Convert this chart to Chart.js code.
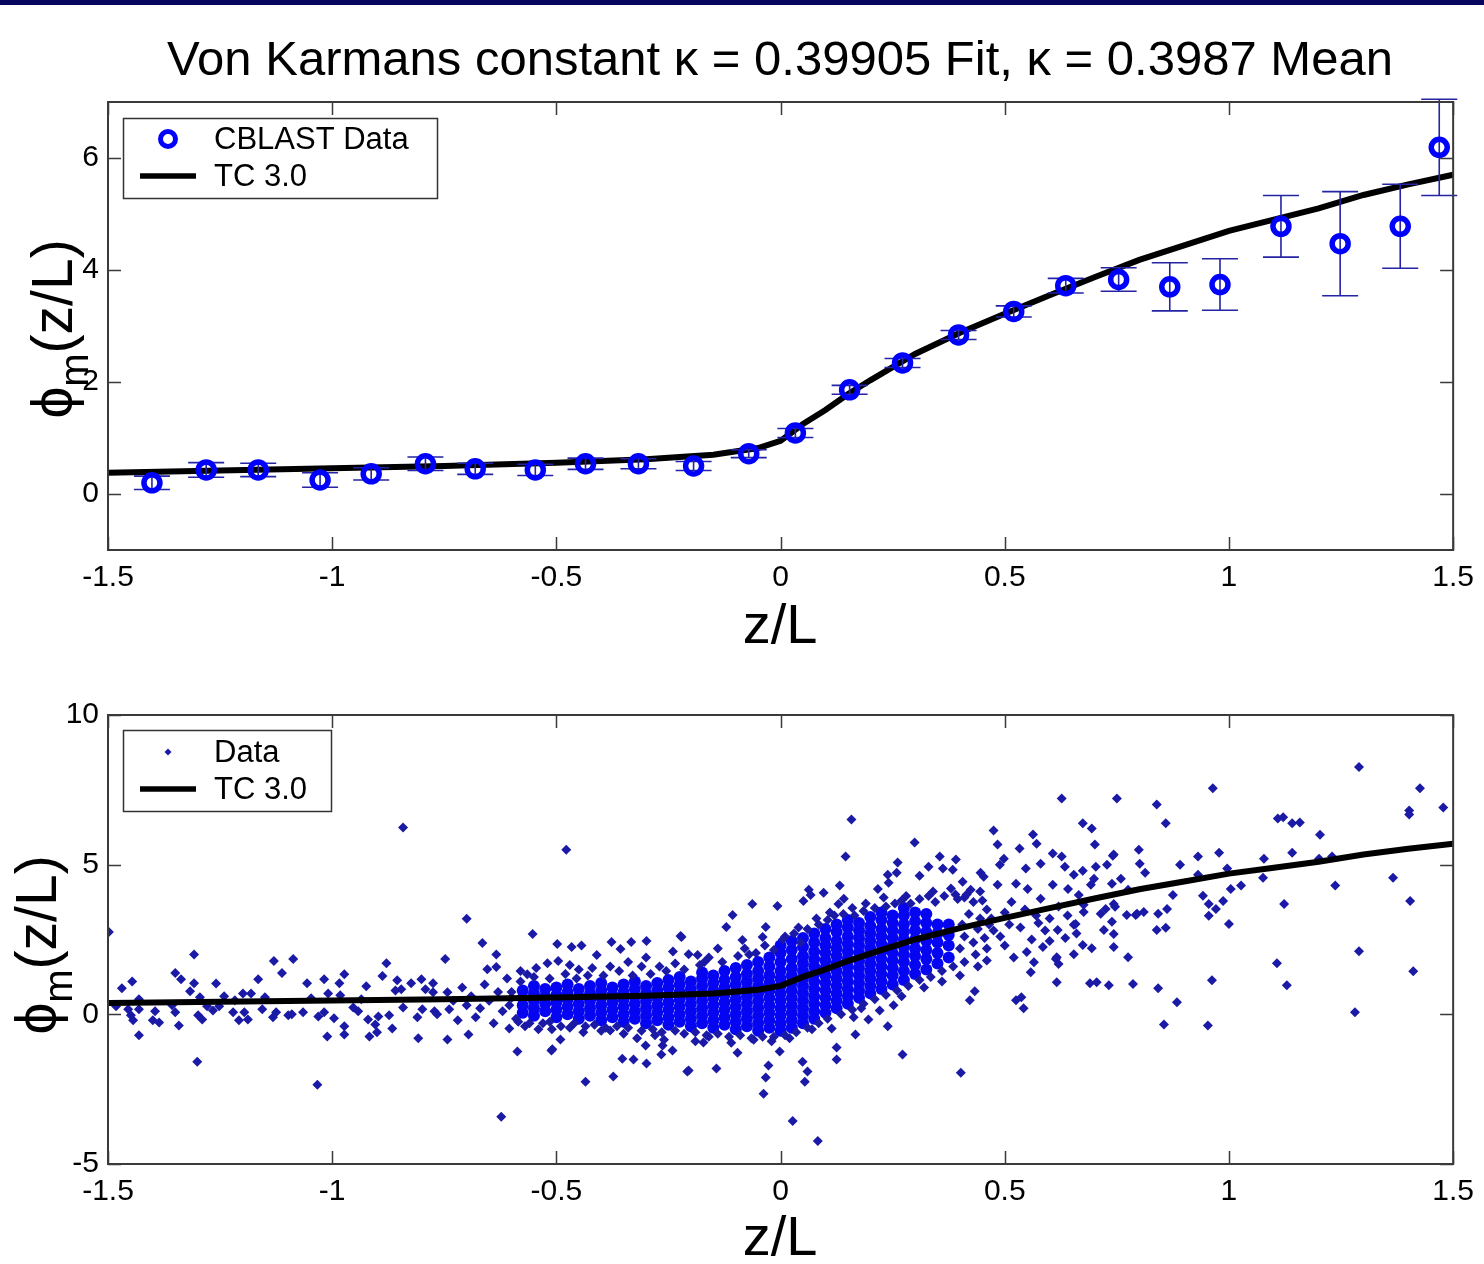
<!DOCTYPE html>
<html>
<head>
<meta charset="utf-8">
<script src="https://cdn.jsdelivr.net/npm/chart.js@4.4.1/dist/chart.umd.min.js"></script>
<style>
  body { margin: 0; background: #fff; width: 1484px; height: 1264px; position: relative; overflow: hidden; }
  #bar { position: absolute; left: 0; top: 0; width: 1484px; height: 5px; background: #06065e; }
  #c1 { position: absolute; left: 0; top: 0; }
  #c2 { position: absolute; left: 0; top: 650px; }
</style>
</head>
<body>
<canvas id="c1" width="1484" height="650"></canvas>
<canvas id="c2" width="1484" height="614"></canvas>
<div id="bar"></div>
<script>
// axis ticks
const xTicks = [-1.5, -1, -0.5, 0, 0.5, 1, 1.5];
const yTicksTop = [0, 2, 4, 6];
const yTicksBottom = [-5, 0, 5, 10];

// TC 3.0 curve (same in both panels)
const tcX = [-1.5, -1.25, -1, -0.75, -0.5, -0.3, -0.15, -0.05, 0, 0.05, 0.1, 0.15, 0.2, 0.3, 0.4, 0.5, 0.6, 0.7, 0.8, 0.9, 1, 1.1, 1.2, 1.3, 1.4, 1.5];
const tcY = [0.38, 0.42, 0.46, 0.5, 0.56, 0.62, 0.7, 0.82, 0.95, 1.25, 1.5, 1.78, 2.03, 2.5, 2.88, 3.22, 3.55, 3.87, 4.18, 4.44, 4.7, 4.9, 5.1, 5.34, 5.53, 5.7];

// CBLAST bin means with error bars
const cblastX = [-1.402, -1.281, -1.165, -1.027, -0.913, -0.792, -0.681, -0.547, -0.435, -0.317, -0.194, -0.071, 0.033, 0.154, 0.272, 0.397, 0.52, 0.636, 0.754, 0.868, 0.98, 1.116, 1.248, 1.382, 1.469];
const cblastY = [0.2, 0.43, 0.43, 0.25, 0.36, 0.54, 0.45, 0.43, 0.54, 0.54, 0.5, 0.72, 1.09, 1.86, 2.34, 2.84, 3.26, 3.72, 3.83, 3.7, 3.74, 4.78, 4.47, 4.78, 6.19];
const cblastErr = [0.12, 0.13, 0.12, 0.13, 0.11, 0.12, 0.1, 0.1, 0.1, 0.09, 0.08, 0.07, 0.08, 0.08, 0.08, 0.08, 0.1, 0.13, 0.21, 0.43, 0.46, 0.55, 0.93, 0.75, 0.86];

// individual data: scattered points [z/L, phi]
const scatterPts = [
  [-1.498,2.75],[-1.482,0.27],[-1.469,0.87],[-1.455,0.17],[-1.449,-0.03],[-1.446,1.1],[-1.444,-0.2],[-1.431,0.17],[-1.431,0.5],[-1.431,-0.7],
  [-1.4,-0.2],[-1.395,0.1],[-1.386,-0.27],[-1.357,0.3],[-1.35,1.38],[-1.35,0.07],[-1.342,-0.37],[-1.337,1.17],[-1.317,0.77],[-1.308,2.0],
  [-1.308,1.04],[-1.301,-1.58],[-1.299,-0.03],[-1.295,0.57],[-1.29,-0.17],[-1.279,0.27],[-1.266,0.13],[-1.259,1.03],[-1.252,0.27],[-1.241,0.6],
  [-1.221,0.07],[-1.217,0.47],[-1.208,-0.2],[-1.199,0.7],[-1.196,0.07],[-1.188,-0.17],[-1.181,0.7],[-1.165,1.17],[-1.156,0.17],[-1.15,0.57],
  [-1.132,-0.1],[-1.13,1.78],[-1.125,0.07],[-1.112,1.38],[-1.098,-0.03],[-1.09,0.0],[-1.087,1.85],[-1.065,0.07],[-1.056,1.04],[-1.047,0.54],
  [-1.033,-2.35],[-1.031,-0.07],[-1.018,1.17],[-1.018,0.07],[-1.011,-0.74],[-1.009,0.7],[-0.996,-0.13],[-0.984,1.04],[-0.982,0.64],[-0.973,1.34],
  [-0.973,-0.4],[-0.973,-0.67],[-0.953,0.23],[-0.942,0.1],[-0.935,0.5],[-0.924,0.94],[-0.92,-0.17],[-0.917,-0.74],[-0.904,-0.34],[-0.9,-0.6],
  [-0.897,-0.07],[-0.888,1.28],[-0.879,1.71],[-0.873,-0.03],[-0.866,-0.47],[-0.859,0.8],[-0.855,1.14],[-0.846,0.84],[-0.842,6.24],[-0.842,0.23],
  [-0.824,1.04],[-0.81,-0.1],[-0.808,-0.8],[-0.801,1.17],[-0.799,0.17],[-0.792,0.84],[-0.775,1.04],[-0.775,0.74],[-0.772,0.1],[-0.766,0.0],
  [-0.748,1.85],[-0.743,0.74],[-0.743,-0.84],[-0.739,0.17],[-0.7,3.19],[-0.696,-0.67],[-0.665,2.38],[-0.654,1.51],[-0.634,1.58],[-0.634,2.0],
  [-0.605,-0.47],[-0.587,-1.24],[-0.553,2.68],[-0.511,-1.21],[-0.498,2.35],[-0.491,-0.84],[-0.478,5.5],[-0.466,2.25],[-0.444,2.3],[-0.435,-2.25],
  [-0.73,0.45],[-0.72,-0.2],[-0.71,0.9],[-0.7,0.3],[-0.69,0.6],[-0.68,-0.1],[-0.67,0.2],[-0.66,1.0],[-0.65,0.45],[-0.64,-0.3],
  [-0.63,0.75],[-0.62,0.1],[-0.61,1.2],[-0.6,0.55],[-0.59,-0.15],[-0.58,1.1],[-0.57,-0.4],[-0.565,1.34],[-0.55,1.25],[-0.53,-0.3],
  [-0.52,1.71],[-0.51,-0.5],[-0.496,1.78],[-0.48,1.35],[-0.47,-0.45],[-0.45,1.5],[-0.44,-0.6],[-0.43,1.3],[-0.41,1.98],[-0.4,-0.55],
  [-0.38,-0.54],[-0.38,1.6],[-0.377,2.42],[-0.357,2.18],[-0.35,-0.65],[-0.34,1.75],[-0.333,2.42],[-0.32,-0.8],[-0.3,1.9],[-0.299,2.45],
  [-0.28,-0.7],[-0.27,1.6],[-0.26,-0.85],[-0.24,2.1],[-0.223,2.62],[-0.221,2.58],[-0.205,2.01],[-0.19,-0.9],[-0.185,1.98],[-0.17,1.75],
  [-0.16,-0.75],[-0.14,2.2],[-0.121,2.92],[-0.107,3.32],[-0.11,-0.95],[-0.085,2.48],[-0.07,2.0],[-0.063,3.69],[-0.06,-0.85],[-0.04,2.58],
  [-0.033,2.92],[-0.02,-0.9],[-0.007,3.62],[0.01,2.6],[0.02,-0.8],[0.04,2.9],[0.051,3.79],[0.063,4.16],[0.067,3.99],[0.07,-0.5],
  [0.08,3.2],[0.096,4.06],[0.11,3.4],[0.114,-0.47],[0.129,3.69],[0.132,4.3],[0.141,3.86],[0.145,5.27],[0.158,6.51],[0.16,3.55],
  [0.163,-0.1],[0.167,-0.67],[0.18,0.2],[0.19,3.7],[0.196,-0.17],[0.217,4.19],[0.221,0.13],[0.23,3.9],[0.239,-0.4],[0.239,4.66],
  [0.241,4.4],[0.252,0.3],[0.259,4.73],[0.261,5.07],[0.27,0.6],[0.28,3.95],[0.299,5.74],[0.31,4.63],[0.32,0.9],[0.33,4.93],
  [0.34,4.1],[0.355,5.27],[0.36,1.1],[0.362,4.87],[0.384,4.83],[0.391,5.17],[0.39,4.0],[0.4,1.3],[0.406,4.43],[0.41,3.9],
  [0.422,0.47],[0.424,4.16],[0.433,0.77],[0.44,1.6],[0.446,4.73],[0.45,3.8],[0.453,4.6],[0.46,2.2],[0.47,3.2],[0.475,6.14],
  [0.484,5.67],[0.484,4.33],[0.489,5.0],[0.49,2.6],[0.498,5.2],[0.51,3.0],[0.52,1.9],[0.525,4.36],[0.525,0.47],[0.533,5.54],
  [0.537,0.57],[0.542,0.2],[0.547,4.87],[0.549,2.08],[0.551,4.19],[0.558,1.41],[0.563,6.01],[0.565,1.74],[0.57,3.3],[0.571,5.7],
  [0.58,5.03],[0.58,3.86],[0.585,2.25],[0.59,2.8],[0.607,5.37],[0.607,4.33],[0.614,1.85],[0.616,1.07],[0.616,1.91],[0.618,2.82],
  [0.62,1.68],[0.627,7.21],[0.627,5.27],[0.634,4.93],[0.641,4.19],[0.654,4.66],[0.654,2.99],[0.654,2.01],[0.658,3.02],[0.665,3.99],
  [0.674,6.38],[0.674,4.8],[0.674,2.32],[0.676,3.42],[0.676,3.66],[0.69,1.04],[0.692,4.33],[0.694,6.21],[0.694,2.21],[0.699,4.53],
  [0.701,5.67],[0.703,4.93],[0.705,1.07],[0.714,3.36],[0.721,2.82],[0.725,3.52],[0.728,5.0],[0.732,0.97],[0.739,4.36],[0.739,3.09],
  [0.741,5.3],[0.743,5.34],[0.743,2.68],[0.743,2.25],[0.743,3.69],[0.746,3.59],[0.75,7.21],[0.759,4.53],[0.772,3.32],[0.775,4.16],
  [0.775,1.91],[0.786,1.01],[0.792,3.32],[0.795,3.36],[0.799,5.5],[0.801,5.03],[0.81,3.42],[0.813,4.73],[0.839,7.01],[0.839,2.82],
  [0.842,3.36],[0.842,0.87],[0.855,-0.34],[0.859,6.38],[0.859,2.89],[0.862,3.52],[0.875,3.99],[0.884,0.4],[0.891,5.0],[0.931,5.27],
  [0.931,4.66],[0.942,3.96],[0.953,-0.37],[0.955,3.69],[0.955,3.29],[0.962,1.14],[0.964,7.55],[0.971,3.52],[0.978,5.4],[0.987,3.79],
  [0.996,4.87],[1.0,3.02],[1.004,4.19],[1.027,4.3],[1.076,4.56],[1.078,5.2],[1.107,1.71],[1.109,6.54],[1.121,6.58],[1.123,3.69],
  [1.129,0.97],[1.141,6.38],[1.141,5.4],[1.158,6.41],[1.201,5.2],[1.203,6.0],[1.23,5.27],[1.237,4.3],[1.281,0.07],[1.29,8.26],
  [1.29,2.11],[1.366,4.56],[1.402,6.81],[1.402,6.68],[1.404,3.79],[1.411,1.44],[1.426,7.55],[1.478,6.91],
  [-0.623,-3.42],[-0.373,-2.08],[-0.353,-1.48],[-0.328,-1.51],[-0.301,-1.04],[-0.299,-1.64],[-0.263,-1.04],[-0.266,-1.34],[-0.241,-1.21],[-0.208,-1.91],
  [-0.509,-1.17],[-0.205,-1.88],[-0.143,-1.81],[-0.172,-0.94],[-0.096,-1.28],[-0.027,-1.71],[-0.033,-2.11],[-0.002,-1.24],[-0.038,-2.65],[0.027,-3.56],
  [0.083,-4.23],[0.049,-1.58],[0.06,-1.91],[0.054,-2.25],[0.125,-1.11],[0.125,-1.51],[0.272,-1.34],[0.402,-1.95],
  // edges of the dense cloud
  [-0.58,1.45],[-0.545,1.55],[-0.515,1.2],[-0.47,1.65],[-0.455,1.2],[-0.42,1.55],[-0.395,1.3],[-0.36,1.45],[-0.33,1.3],[-0.31,1.6],
  [-0.29,1.35],[-0.255,1.45],[-0.235,1.7],[-0.215,1.5],[-0.18,1.65],[-0.16,1.9],[-0.13,1.75],[-0.095,1.95],[-0.08,2.2],[-0.055,2.05],
  [-0.035,2.3],[-0.015,2.15],[0.005,2.5],[0.03,2.7],[0.045,2.4],
  [-0.585,-0.25],[-0.56,-0.3],[-0.54,-0.5],[-0.515,-0.25],[-0.49,-0.4],[-0.46,-0.3],[-0.435,-0.4],[-0.415,-0.35],[-0.39,-0.45],[-0.365,-0.4],
  [-0.34,-0.45],[-0.31,-0.55],[-0.285,-0.5],[-0.265,-0.6],[-0.235,-0.55],[-0.215,-0.65],[-0.19,-0.6],[-0.165,-0.7],[-0.14,-0.65],[-0.115,-0.75],
  [-0.09,-0.7],[-0.065,-0.8],[-0.04,-0.75],[-0.015,-0.75],[0.01,-0.7],[0.035,-0.6],[0.06,-0.45],[0.085,-0.3],[0.105,-0.15],[0.135,0.0],
  [0.16,0.15],[0.185,0.35],[0.21,0.5],[0.235,0.65],[0.26,0.8],[0.285,0.95],[0.31,1.15],[0.335,1.25],[0.36,1.45],[0.385,1.6],
  [0.41,1.75],[0.435,2.0],[0.46,1.8],
  [0.06,2.85],[0.085,3.0],[0.105,3.15],[0.12,3.3],[0.14,3.35],[0.165,3.3],[0.185,3.45],[0.21,3.55],[0.235,3.6],[0.255,3.7],
  [0.27,3.8],[0.29,3.7],[0.31,3.85],[0.33,3.95],[0.345,3.75],[0.365,3.95],[0.38,4.2],[0.395,3.85],[0.415,4.0],[0.43,3.75],
  [0.445,4.1],[0.46,3.5],[0.475,2.8],[0.5,3.4],[0.5,2.3],[0.515,3.75],[0.535,2.9],[0.545,3.5],[0.56,2.5],[0.575,3.05],
  [0.6,3.2],[0.6,2.45],[0.62,3.6],[0.635,2.55],[0.64,3.3],[0.66,2.7],
  [-0.605,0.3],[-0.6,0.75],[0.4,2.2],[0.41,2.6],[0.405,3.0],[0.42,3.35],[0.43,2.4],[0.44,2.85],[0.445,3.2],[0.455,2.55],[0.465,3.0]
];

// dense core of the cloud: [z/L, phi values...]
const coreCols = [
  [-0.575, 0.05, 0.3, 0.55, 0.8],
  [-0.55, -0.05, 0.2, 0.45, 0.7, 0.95],
  [-0.525, 0.1, 0.35, 0.6, 0.85],
  [-0.5, -0.1, 0.15, 0.4, 0.65, 0.9],
  [-0.475, 0.0, 0.25, 0.5, 0.75, 1.0],
  [-0.45, -0.15, 0.1, 0.35, 0.6, 0.85],
  [-0.425, -0.05, 0.2, 0.45, 0.7, 0.95],
  [-0.4, -0.2, 0.05, 0.3, 0.55, 0.8, 1.05],
  [-0.375, -0.1, 0.15, 0.4, 0.65, 0.9],
  [-0.35, -0.25, 0.0, 0.25, 0.5, 0.75, 1.0],
  [-0.325, -0.15, 0.1, 0.35, 0.6, 0.85, 1.1],
  [-0.3, -0.3, -0.05, 0.2, 0.45, 0.7, 0.95],
  [-0.275, -0.2, 0.05, 0.3, 0.55, 0.8, 1.05],
  [-0.25, -0.35, -0.1, 0.15, 0.4, 0.65, 0.9, 1.15],
  [-0.225, -0.25, 0.0, 0.25, 0.5, 0.75, 1.0, 1.25],
  [-0.2, -0.4, -0.15, 0.1, 0.35, 0.6, 0.85, 1.1],
  [-0.175, -0.3, -0.05, 0.2, 0.45, 0.7, 0.95, 1.2, 1.4],
  [-0.15, -0.45, -0.2, 0.05, 0.3, 0.55, 0.8, 1.05, 1.3],
  [-0.125, -0.35, -0.1, 0.15, 0.4, 0.65, 0.9, 1.15, 1.45],
  [-0.1, -0.5, -0.25, 0.0, 0.25, 0.5, 0.75, 1.0, 1.25, 1.55],
  [-0.075, -0.4, -0.15, 0.1, 0.35, 0.6, 0.85, 1.1, 1.35, 1.65],
  [-0.05, -0.55, -0.3, -0.05, 0.2, 0.45, 0.7, 0.95, 1.2, 1.45, 1.75],
  [-0.025, -0.45, -0.2, 0.05, 0.3, 0.55, 0.8, 1.05, 1.3, 1.6, 1.9],
  [0.0, -0.55, -0.3, -0.05, 0.2, 0.45, 0.7, 0.95, 1.2, 1.45, 1.75, 2.05, 2.3],
  [0.025, -0.45, -0.2, 0.05, 0.3, 0.55, 0.8, 1.05, 1.3, 1.55, 1.85, 2.15, 2.45],
  [0.05, -0.3, -0.05, 0.2, 0.45, 0.7, 0.95, 1.2, 1.45, 1.7, 1.95, 2.25, 2.55],
  [0.075, -0.15, 0.1, 0.35, 0.6, 0.85, 1.1, 1.35, 1.6, 1.85, 2.1, 2.4, 2.7],
  [0.1, 0.05, 0.3, 0.55, 0.8, 1.05, 1.3, 1.55, 1.8, 2.05, 2.3, 2.55, 2.85],
  [0.125, 0.2, 0.45, 0.7, 0.95, 1.2, 1.45, 1.7, 1.95, 2.2, 2.45, 2.75, 3.0],
  [0.15, 0.35, 0.6, 0.85, 1.1, 1.35, 1.6, 1.85, 2.1, 2.35, 2.6, 2.9, 3.15],
  [0.175, 0.55, 0.8, 1.05, 1.3, 1.55, 1.8, 2.05, 2.3, 2.55, 2.8, 3.05],
  [0.2, 0.7, 0.95, 1.2, 1.45, 1.7, 1.95, 2.2, 2.45, 2.7, 2.95, 3.25],
  [0.225, 0.85, 1.1, 1.35, 1.6, 1.85, 2.1, 2.35, 2.6, 2.85, 3.15, 3.4],
  [0.25, 1.0, 1.3, 1.55, 1.8, 2.05, 2.3, 2.55, 2.8, 3.05, 3.3],
  [0.275, 1.15, 1.45, 1.75, 2.0, 2.25, 2.5, 2.75, 3.0, 3.3, 3.55],
  [0.3, 1.35, 1.65, 1.95, 2.2, 2.5, 2.8, 3.1, 3.4],
  [0.325, 1.5, 1.85, 2.15, 2.45, 2.75, 3.05, 3.35],
  [0.35, 1.7, 2.05, 2.4, 2.7, 3.0],
  [0.375, 1.9, 2.3, 2.65, 3.0]
];

const FONT = '"Liberation Sans", Arial, Helvetica, sans-serif';
const BLUE = '#0000ff';

function tickFn(list) {
  return function (scale) { scale.ticks = list.map(v => ({ value: v })); };
}

function drawYLabel(ctx, baseX, cy) {
  ctx.save();
  ctx.translate(baseX, cy);
  ctx.rotate(-Math.PI / 2);
  ctx.fillStyle = '#000';
  ctx.textAlign = 'left';
  ctx.textBaseline = 'alphabetic';
  const big = '57px ' + FONT, sub = '40px ' + FONT;
  ctx.font = big; const w1 = ctx.measureText('\u03D5').width;
  ctx.font = sub; const w2 = ctx.measureText('m').width;
  ctx.font = big; const w3 = ctx.measureText('(z/L)').width;
  let x = -(w1 + w2 + w3) / 2;
  ctx.font = big; ctx.fillText('\u03D5', x, 0); x += w1;
  ctx.font = sub; ctx.fillText('m', x, 16); x += w2;
  ctx.font = big; ctx.fillText('(z/L)', x, 0);
  ctx.restore();
}

// matlab style frame, inward ticks, labels and legend
const matlabFrame = {
  id: 'matlabFrame',
  beforeDatasetDraw(chart, args, opts) {
    if (!opts.errors || args.index !== 0) return;
    const ctx = chart.ctx, xs = chart.scales.x, ys = chart.scales.y;
    ctx.save();
    ctx.strokeStyle = '#2424a4';
    ctx.lineWidth = 1.6;
    cblastX.forEach((x, i) => {
      const px = xs.getPixelForValue(x);
      const top = ys.getPixelForValue(cblastY[i] + opts.errors[i]);
      const bot = ys.getPixelForValue(cblastY[i] - opts.errors[i]);
      ctx.beginPath();
      ctx.moveTo(px, top); ctx.lineTo(px, bot);
      ctx.moveTo(px - 18, top); ctx.lineTo(px + 18, top);
      ctx.moveTo(px - 18, bot); ctx.lineTo(px + 18, bot);
      ctx.stroke();
    });
    ctx.restore();
  },
  afterDraw(chart, args, opts) {
    const ctx = chart.ctx, a = chart.chartArea, xs = chart.scales.x, ys = chart.scales.y;
    ctx.save();
    ctx.strokeStyle = '#3a3a3a';
    ctx.lineWidth = 1.5;
    ctx.beginPath();
    xs.ticks.forEach(t => {
      const p = Math.round(xs.getPixelForValue(t.value)) + 0.5;
      ctx.moveTo(p, a.top); ctx.lineTo(p, a.top + 13);
      ctx.moveTo(p, a.bottom); ctx.lineTo(p, a.bottom - 13);
    });
    ys.ticks.forEach(t => {
      const p = Math.round(ys.getPixelForValue(t.value)) + 0.5;
      ctx.moveTo(a.left, p); ctx.lineTo(a.left + 13, p);
      ctx.moveTo(a.right, p); ctx.lineTo(a.right - 13, p);
    });
    ctx.stroke();
    ctx.lineWidth = 2;
    ctx.strokeRect(a.left, a.top, a.right - a.left, a.bottom - a.top);

    // legend
    const L = opts.legend;
    ctx.fillStyle = '#fff';
    ctx.fillRect(L.x, L.y, L.w, L.h);
    ctx.lineWidth = 1.5;
    ctx.strokeStyle = '#333';
    ctx.strokeRect(L.x + 0.5, L.y + 0.5, L.w, L.h);
    ctx.font = '31px ' + FONT;
    ctx.fillStyle = '#000';
    ctx.textBaseline = 'middle';
    ctx.textAlign = 'left';
    L.items.forEach(it => {
      if (it.kind === 'circle') {
        ctx.beginPath();
        ctx.strokeStyle = BLUE; ctx.lineWidth = 5;
        ctx.arc(168, it.y, 7.5, 0, Math.PI * 2);
        ctx.stroke();
      } else if (it.kind === 'dot') {
        ctx.beginPath();
        ctx.fillStyle = '#1a1aa6';
        ctx.moveTo(168, it.y - 3.5); ctx.lineTo(171.5, it.y); ctx.lineTo(168, it.y + 3.5); ctx.lineTo(164.5, it.y);
        ctx.closePath(); ctx.fill();
      } else {
        ctx.beginPath();
        ctx.strokeStyle = '#000'; ctx.lineWidth = 5.5;
        ctx.moveTo(140, it.y); ctx.lineTo(196, it.y);
        ctx.stroke();
      }
      ctx.fillStyle = '#000';
      ctx.fillText(it.text, 214, it.y + 1);
    });

    // axis labels and title
    ctx.textAlign = 'center';
    ctx.textBaseline = 'middle';
    ctx.font = '56px ' + FONT;
    ctx.fillText('z/L', 780, opts.xLabelY);
    if (opts.title) {
      ctx.font = '49px ' + FONT;
      ctx.fillText(opts.title, 780, 61);
    }
    drawYLabel(ctx, opts.yLabelX, opts.yLabelY);
    ctx.restore();
  }
};

function axisOpts(ticks, min, max, isX) {
  return {
    type: 'linear', min: min, max: max,
    afterBuildTicks: tickFn(ticks),
    afterFit: isX ? (s => { s.height = 100; }) : (s => { s.width = 108; }),
    grid: { display: false, drawTicks: false },
    border: { display: false },
    ticks: {
      padding: isX ? 10 : 9,
      autoSkip: false, maxRotation: 0,
      color: '#000',
      font: { family: FONT, size: 30 },
      callback: v => String(v)
    }
  };
}

const pts = (xs, ys) => xs.map((x, i) => ({ x: x, y: ys[i] }));

new Chart(document.getElementById('c1'), {
  type: 'scatter',
  data: {
    datasets: [
      { label: 'CBLAST Data', data: pts(cblastX, cblastY), pointStyle: 'circle', pointRadius: 8,
        pointBorderWidth: 5.5, borderColor: BLUE, backgroundColor: 'rgba(0,0,0,0)', order: 0 },
      { label: 'TC 3.0', data: pts(tcX, tcY), showLine: true, borderColor: '#000', borderWidth: 6,
        pointRadius: 0, fill: false, order: 1 }
    ]
  },
  options: {
    responsive: false, animation: false, events: [],
    layout: { padding: { top: 102, right: 27, left: 0, bottom: 0 } },
    plugins: {
      legend: { display: false }, tooltip: { enabled: false },
      matlabFrame: {
        errors: cblastErr,
        title: 'Von Karmans constant \u03BA = 0.39905 Fit, \u03BA = 0.3987 Mean',
        xLabelY: 628, yLabelX: 72, yLabelY: 329,
        legend: { x: 123, y: 118, w: 314, h: 80,
          items: [{ kind: 'circle', y: 139, text: 'CBLAST Data' }, { kind: 'line', y: 176, text: 'TC 3.0' }] }
      }
    },
    scales: { x: axisOpts(xTicks, -1.5, 1.5, true), y: axisOpts(yTicksTop, -1, 7, false) }
  },
  plugins: [matlabFrame]
});

const coreData = coreCols.flatMap(c => c.slice(1).map(y => ({ x: c[0], y: y })));

new Chart(document.getElementById('c2'), {
  type: 'scatter',
  data: {
    datasets: [
      { label: 'TC 3.0', data: pts(tcX, tcY), showLine: true, borderColor: '#000', borderWidth: 6,
        pointRadius: 0, fill: false, order: 0 },
      { label: 'Data', data: scatterPts.map(p => ({ x: p[0], y: p[1] })), pointStyle: 'rectRot', pointRadius: 5,
        pointBorderWidth: 0, backgroundColor: '#1a1aa6', borderColor: '#1a1aa6', order: 1 },
      { label: 'Data core', data: coreData, pointStyle: 'circle', pointRadius: 6,
        pointBorderWidth: 0, backgroundColor: '#0505f2', borderColor: '#0505f2', order: 2 }
    ]
  },
  options: {
    responsive: false, animation: false, events: [],
    layout: { padding: { top: 65, right: 27, left: 0, bottom: 0 } },
    plugins: {
      legend: { display: false }, tooltip: { enabled: false },
      matlabFrame: {
        xLabelY: 590, yLabelX: 56, yLabelY: 295,
        legend: { x: 123, y: 80, w: 208, h: 81,
          items: [{ kind: 'dot', y: 102, text: 'Data' }, { kind: 'line', y: 139, text: 'TC 3.0' }] }
      }
    },
    scales: { x: axisOpts(xTicks, -1.5, 1.5, true), y: axisOpts(yTicksBottom, -5, 10, false) }
  },
  plugins: [matlabFrame]
});
</script>
</body>
</html>
